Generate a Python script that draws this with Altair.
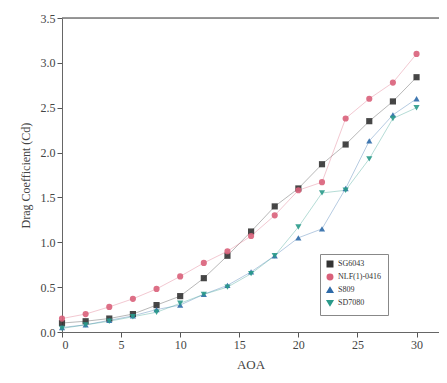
import altair as alt
import pandas as pd

aoa = [0, 2, 4, 6, 8, 10, 12, 14, 16, 18, 20, 22, 24, 26, 28, 30]
sg6043 = [0.10, 0.12, 0.15, 0.20, 0.30, 0.40, 0.60, 0.85, 1.12, 1.40, 1.60, 1.87, 2.09, 2.35, 2.57, 2.84]
nlf = [0.15, 0.20, 0.28, 0.37, 0.48, 0.62, 0.77, 0.90, 1.07, 1.30, 1.58, 1.67, 2.38, 2.60, 2.78, 3.10]
s809 = [0.05, 0.08, 0.13, 0.18, 0.25, 0.30, 0.42, 0.52, 0.67, 0.85, 1.05, 1.15, 1.60, 2.13, 2.42, 2.60]
sd7080 = [0.04, 0.08, 0.12, 0.17, 0.22, 0.32, 0.42, 0.50, 0.65, 0.85, 1.17, 1.55, 1.58, 1.93, 2.38, 2.50]
names = ["SG6043", "NLF(1)-0416", "S809", "SD7080"]
colors = ["#333333", "#d9607a", "#2e6aa8", "#2a9a8a"]
shapes = ["square", "circle", "triangle-up", "triangle-down"]

rows = []
for n, vals in zip(names, [sg6043, nlf, s809, sd7080]):
    for a, v in zip(aoa, vals):
        rows.append({"AOA": a, "Cd": v, "Airfoil": n})
df = pd.DataFrame(rows)

font = "Liberation Serif"
xs = alt.Scale(domain=[0, 31.9], nice=False, zero=False)
ys = alt.Scale(domain=[0, 3.5], nice=False)
legend = alt.Legend(orient="none", legendX=258, legendY=236,
                    strokeColor="#888", padding=6, labelFont=font,
                    labelFontSize=8, symbolSize=30, rowPadding=1,
                    fillColor="white", labelColor="#333", symbolOpacity=1)
color = alt.Color("Airfoil:N", scale=alt.Scale(domain=names, range=colors), title=None, legend=legend)
shape = alt.Shape("Airfoil:N", scale=alt.Scale(domain=names, range=shapes), title=None, legend=legend)

xaxis = alt.Axis(values=[v * 2.5 for v in range(13)], grid=False,
                 labelExpr="datum.value % 5 === 0 ? datum.label : ''",
                 tickSize={"condition": {"test": "datum.value % 5 === 0", "value": 5}, "value": 3},
                 domainColor="#666", tickColor="#555", labelFont=font, labelFontSize=12,
                 labelColor="#444", titleFont=font, titleFontSize=13, titleFontWeight="normal",
                 titleColor="#444", titlePadding=8, format="d")
yaxis = alt.Axis(values=[v * 0.25 for v in range(15)], grid=False,
                 labelExpr="datum.value % 0.5 === 0 ? format(datum.value, '.1f') : ''",
                 tickSize={"condition": {"test": "datum.value % 0.5 === 0", "value": 5}, "value": 3},
                 domainColor="#666", tickColor="#555", labelFont=font, labelFontSize=12,
                 labelColor="#444", titleFont=font, titleFontSize=12, titleFontWeight="normal",
                 titleColor="#444", titlePadding=8)

base = alt.Chart(df)
lines = base.mark_line(strokeWidth=1, opacity=0.35).encode(
    x=alt.X("AOA:Q", scale=xs, axis=xaxis, title="AOA"),
    y=alt.Y("Cd:Q", scale=ys, axis=yaxis, title="Drag Coefficient (Cd)"),
    color=color,
    detail="Airfoil:N",
)
points = base.mark_point(filled=True, size=38, opacity=0.9).encode(
    x=alt.X("AOA:Q", scale=xs),
    y=alt.Y("Cd:Q", scale=ys),
    color=color,
    shape=shape,
)
topline = alt.Chart(pd.DataFrame({"y": [3.5]})).mark_rule(color="#777", strokeWidth=1.5).encode(
    y=alt.Y("y:Q", scale=ys), x=alt.value(0), x2=alt.value(377)
)

chart = alt.layer(lines, points, topline).properties(
    width=377, height=314,
    autosize=alt.AutoSizeParams(type="none"),
    padding={"left": 54, "top": 10, "right": 0, "bottom": 42},
).configure_view(stroke=None).configure(background="white")

chart.save("out.html", embed_options={"renderer": "svg", "actions": False})
